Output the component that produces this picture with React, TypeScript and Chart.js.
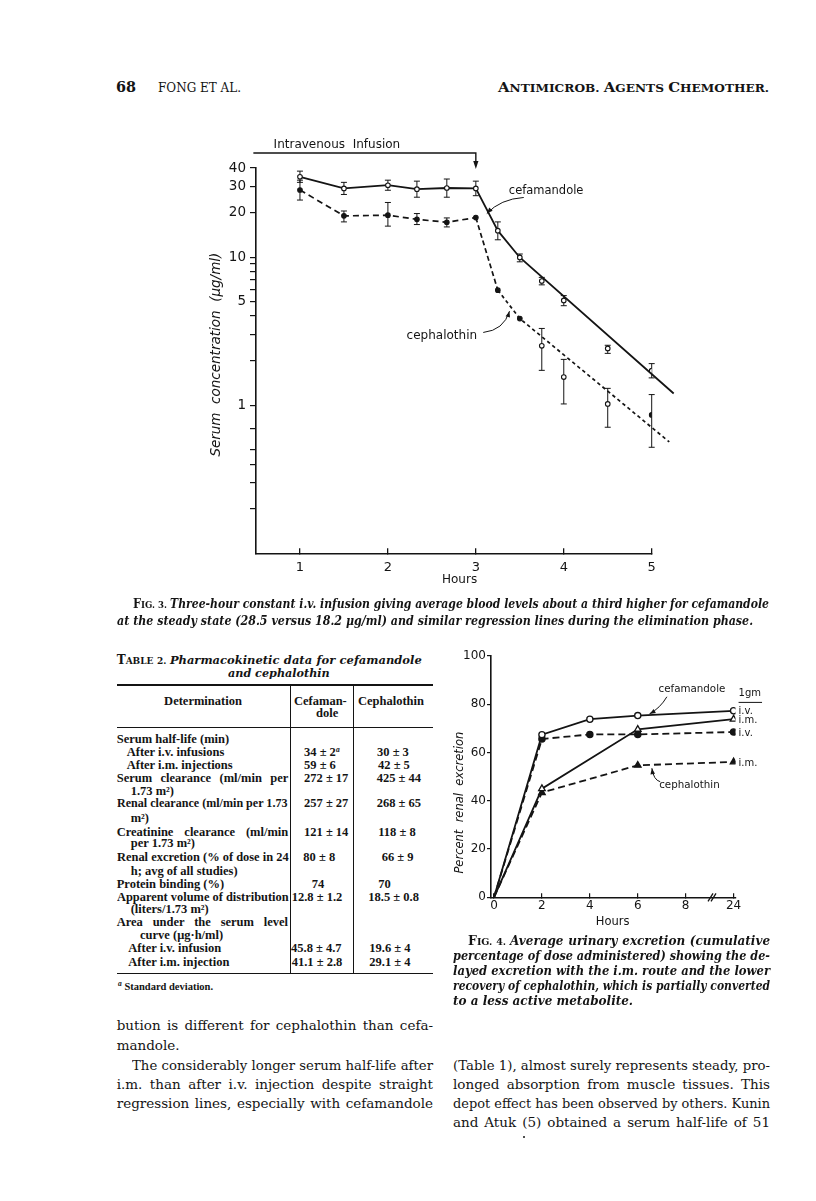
import React, { useEffect, useRef } from "react";
import { Chart, registerables } from "chart.js";
Chart.register(...registerables);

const INK = "#141414";
const SANS = "'DejaVu Sans', sans-serif";
const SERIF = "'DejaVu Serif', serif";
const TIMES = "'Liberation Serif', serif";

// ---------------- Fig. 3 data (serum concentration, µg/ml, log scale) ----------------
const fig3Hours = [1, 1.5, 2, 2.33, 2.67, 3, 3.25, 3.5, 3.75, 4, 4.5, 5];
const cefamandoleMean = [34.9, 29.1, 30.6, 28.8, 29.3, 29.1, 15.1, 9.95, 6.9, 5.1, 2.42, 1.71];
const cefamandoleLow = [32.0, 26.5, 28.3, 25.4, 25.4, 26.0, 13.1, 9.3, 6.5, 4.7, 2.24, 1.53];
const cefamandoleHigh = [38.1, 32.0, 33.1, 32.6, 33.7, 32.6, 17.3, 10.5, 7.3, 5.5, 2.54, 1.91];
const cephalothinMean = [28.4, 19.0, 19.2, 18.0, 17.2, 18.5, 5.98, 3.85, 2.52, 1.55, 1.02, 0.86];
const cephalothinLow = [24.3, 17.3, 16.2, 16.6, 16.0, null, null, null, 1.72, 1.02, 0.71, 0.52];
const cephalothinHigh = [33.1, 20.5, 23.4, 19.7, 18.4, null, null, null, 3.3, 2.04, 1.3, 1.18];
const cephalothinOpen = [false, false, false, false, false, false, false, false, true, true, true, false];

// connecting / regression lines
const cefamandoleLineHours = [1, 1.5, 2, 2.33, 2.67, 3, 3.25, 3.5, 5.25];
const cefamandoleLineValues = [34.9, 29.1, 30.6, 28.8, 29.3, 29.1, 15.1, 9.95, 1.2];
const cephalothinLineHours = [1, 1.5, 2, 2.33, 2.67, 3, 3.25, 3.5, 5.2];
const cephalothinLineValues = [28.4, 19.0, 19.2, 18.0, 17.2, 18.5, 5.98, 3.85, 0.565];

const fig3XTicks = [1, 2, 3, 4, 5];
const fig3YTicks = [0.2, 0.3, 0.4, 0.5, 0.7, 1, 2, 3, 4, 5, 6, 7, 8, 9, 10, 20, 30, 40];
const fig3YLabels = [1, 5, 10, 20, 30, 40];

// ---------------- Fig. 4 data (percent renal excretion) ----------------
const fig4XLabels = ["0", "2", "4", "6", "8", "24"];
const cefamandoleIvHours = [0, 2, 4, 6, 24];
const cefamandoleIvValues = [0, 67.4, 73.8, 75.3, 77.3];
const cefamandoleImHours = [0, 2, 6, 24];
const cefamandoleImValues = [0, 45.0, 69.6, 73.8];
const cephalothinIvHours = [0, 2, 4, 6, 24];
const cephalothinIvValues = [0, 65.6, 67.5, 67.5, 68.5];
const cephalothinImHours = [0, 2, 6, 24];
const cephalothinImValues = [0, 43.4, 54.7, 56.1];
const fig4EndLabels = ["i.v.", "i.m.", "i.v.", "i.m."];
const fig4YTicks = [0, 20, 40, 60, 80, 100];

// ---------------- helpers ----------------
let mctx: CanvasRenderingContext2D | null = null;
function measure(t: string, font: string): number {
  if (!mctx) mctx = document.createElement("canvas").getContext("2d");
  mctx!.font = font;
  return mctx!.measureText(t).width;
}

function curvedArrow(ctx: CanvasRenderingContext2D, sx: number, sy: number, cx: number, cy: number, tx: number, ty: number) {
  ctx.beginPath();
  ctx.moveTo(sx, sy);
  ctx.quadraticCurveTo(cx, cy, tx, ty);
  ctx.stroke();
  const a = Math.atan2(ty - cy, tx - cx);
  const L = 6, W = 2.3;
  ctx.beginPath();
  ctx.moveTo(tx, ty);
  ctx.lineTo(tx - L * Math.cos(a) + W * Math.sin(a), ty - L * Math.sin(a) - W * Math.cos(a));
  ctx.lineTo(tx - L * Math.cos(a) - W * Math.sin(a), ty - L * Math.sin(a) + W * Math.cos(a));
  ctx.closePath();
  ctx.fill();
}

function drawErrorBars(ctx: CanvasRenderingContext2D, xs: any, ys: any, hours: number[], low: (number | null)[], high: (number | null)[]) {
  for (let i = 0; i < hours.length; i++) {
    const lo = low[i], hi = high[i];
    if (lo == null || hi == null) continue;
    const px = xs.getPixelForValue(hours[i]);
    const y1 = ys.getPixelForValue(lo), y2 = ys.getPixelForValue(hi);
    ctx.beginPath();
    ctx.moveTo(px, y1); ctx.lineTo(px, y2);
    ctx.moveTo(px - 3, y1); ctx.lineTo(px + 3, y1);
    ctx.moveTo(px - 3, y2); ctx.lineTo(px + 3, y2);
    ctx.stroke();
  }
}

// annotation anchors (data units)
const infusion = { from: 0.47, to: 3, labelAt: 1.42, label: "Intravenous  Infusion" };
const cefLabel = { x: 3.375, y: 28.05, s: [3.545, 25.3], c: [3.28, 24.7], t: [3.125, 19.7] };
const cepLabel = { x: 2.2125, y: 2.93, s: [3.084, 3.1], c: [3.318, 3.21], t: [3.383, 4.32] };

const fig3Plugin = {
  id: "fig3Annotations",
  beforeDatasetsDraw(chart: any) {
    const { ctx, scales } = chart;
    ctx.save();
    ctx.strokeStyle = INK;
    ctx.lineWidth = 1;
    drawErrorBars(ctx, scales.x, scales.y, fig3Hours, cefamandoleLow, cefamandoleHigh);
    drawErrorBars(ctx, scales.x, scales.y, fig3Hours, cephalothinLow, cephalothinHigh);
    ctx.restore();
  },
  afterDraw(chart: any) {
    const { ctx, chartArea, scales } = chart;
    const x = scales.x, y = scales.y;
    ctx.save();
    ctx.strokeStyle = INK;
    ctx.fillStyle = INK;
    ctx.lineWidth = 1.4;
    const bx0 = x.getPixelForValue(infusion.from), bx1 = x.getPixelForValue(infusion.to);
    const by = chartArea.top - 15;
    ctx.beginPath();
    ctx.moveTo(bx0, by); ctx.lineTo(bx1, by); ctx.lineTo(bx1, chartArea.top - 5);
    ctx.stroke();
    ctx.beginPath();
    ctx.moveTo(bx1, chartArea.top + 1);
    ctx.lineTo(bx1 - 2.6, chartArea.top - 7);
    ctx.lineTo(bx1 + 2.6, chartArea.top - 7);
    ctx.closePath();
    ctx.fill();
    ctx.textBaseline = "middle";
    ctx.textAlign = "center";
    ctx.font = `12px ${SANS}`;
    ctx.fillText(infusion.label, x.getPixelForValue(infusion.labelAt), by - 8);

    ctx.textAlign = "left";
    ctx.font = `11.5px ${SANS}`;
    ctx.fillText("cefamandole", x.getPixelForValue(cefLabel.x), y.getPixelForValue(cefLabel.y));
    ctx.font = `12px ${SANS}`;
    ctx.fillText("cephalothin", x.getPixelForValue(cepLabel.x), y.getPixelForValue(cepLabel.y));
    ctx.lineWidth = 1;
    for (const a of [cefLabel, cepLabel]) {
      curvedArrow(ctx,
        x.getPixelForValue(a.s[0]), y.getPixelForValue(a.s[1]),
        x.getPixelForValue(a.c[0]), y.getPixelForValue(a.c[1]),
        x.getPixelForValue(a.t[0]), y.getPixelForValue(a.t[1]));
    }

    // axis titles
    ctx.textAlign = "center";
    ctx.font = `12px ${SANS}`;
    ctx.fillText("Hours", x.getPixelForValue(2.815), chartArea.bottom + 27);
    ctx.save();
    ctx.translate(chartArea.left - 40, (chartArea.top + chartArea.bottom) / 2 - 6);
    ctx.rotate(-Math.PI / 2);
    ctx.font = `italic 13.5px ${SANS}`;
    ctx.fillText("Serum  concentration  (\u03bcg/ml)", 0, 0);
    ctx.restore();
    ctx.restore();
  },
};

const fig4CefLabel = { x: 3.433, y: 86.2, s: [3.608, 83.1], c: [3.468, 78.4], t: [3.245, 76.0] };
const fig4CepLabel = { x: 3.447, y: 46.3, s: [3.468, 47.9], c: [3.329, 48.6], t: [3.295, 53.5] };
const fig4Break = 4.55;

const fig4Series = [
  { hours: cefamandoleIvHours, values: cefamandoleIvValues },
  { hours: cefamandoleImHours, values: cefamandoleImValues },
  { hours: cephalothinIvHours, values: cephalothinIvValues },
  { hours: cephalothinImHours, values: cephalothinImValues },
];
const fig4Styles = [
  { dash: [] as number[], point: "circle", filled: false },
  { dash: [] as number[], point: "triangle", filled: false },
  { dash: [7, 4], point: "circle", filled: true },
  { dash: [7, 4], point: "triangle", filled: true },
];

const fig4Plugin = {
  id: "fig4Annotations",
  afterDraw(chart: any) {
    const { ctx, chartArea, scales } = chart;
    const x = scales.x, y = scales.y;
    ctx.save();
    ctx.strokeStyle = INK;
    ctx.fillStyle = INK;
    ctx.textBaseline = "middle";
    // axis break
    const bp = x.getPixelForValue(fig4Break);
    ctx.lineWidth = 1.3;
    ctx.beginPath();
    for (const d of [-1.5, 1.5]) {
      ctx.moveTo(bp + d - 2.5, chartArea.bottom + 4);
      ctx.lineTo(bp + d + 2.5, chartArea.bottom - 4);
    }
    ctx.stroke();
    // labels
    ctx.textAlign = "left";
    ctx.font = `10.3px ${SANS}`;
    ctx.fillText("cefamandole", x.getPixelForValue(fig4CefLabel.x), y.getPixelForValue(fig4CefLabel.y));
    ctx.fillText("cephalothin", x.getPixelForValue(fig4CepLabel.x), y.getPixelForValue(fig4CepLabel.y));
    ctx.lineWidth = 1;
    for (const a of [fig4CefLabel, fig4CepLabel]) {
      curvedArrow(ctx,
        x.getPixelForValue(a.s[0]), y.getPixelForValue(a.s[1]),
        x.getPixelForValue(a.c[0]), y.getPixelForValue(a.c[1]),
        x.getPixelForValue(a.t[0]), y.getPixelForValue(a.t[1]));
    }
    const endX = x.getPixelForValue(fig4XLabels.length - 1) + 5;
    ctx.font = `10px ${SANS}`;
    const gmY = y.getPixelForValue(84.5);
    ctx.fillText("1gm", endX, gmY);
    ctx.beginPath();
    ctx.moveTo(endX, gmY + 9);
    ctx.lineTo(endX + measure("1gm", `10px ${SANS}`) + 1, gmY + 9);
    ctx.stroke();
    fig4Series.forEach((s, i) => {
      ctx.fillText(fig4EndLabels[i], endX, y.getPixelForValue(s.values[s.values.length - 1]) + 1);
    });
    // titles
    ctx.textAlign = "center";
    ctx.font = `11.5px ${SANS}`;
    ctx.fillText("Hours", x.getPixelForValue(2.476), chartArea.bottom + 24.4);
    ctx.save();
    ctx.translate(chartArea.left - 31, (chartArea.top + chartArea.bottom) / 2 + 26);
    ctx.rotate(-Math.PI / 2);
    ctx.font = `italic 11.5px ${SANS}`;
    ctx.fillText("Percent  renal  excretion", 0, 0);
    ctx.restore();
    ctx.restore();
  },
};

function Fig3() {
  const ref = useRef<HTMLCanvasElement>(null);
  useEffect(() => {
    const pts = (hs: number[], vs: number[]) => hs.map((h, i) => ({ x: h, y: vs[i] }));
    const chart = new Chart(ref.current!, {
      type: "line",
      data: {
        datasets: [
          {
            data: pts(fig3Hours, cefamandoleMean) as any,
            showLine: false,
            pointStyle: "circle",
            pointRadius: 2.3,
            pointBackgroundColor: "#fff",
            pointBorderColor: INK,
            pointBorderWidth: 1.1,
          },
          {
            data: pts(fig3Hours, cephalothinMean) as any,
            showLine: false,
            pointStyle: "circle",
            pointRadius: 2.3,
            pointBackgroundColor: cephalothinOpen.map((o) => (o ? "#fff" : INK)),
            pointBorderColor: INK,
            pointBorderWidth: 1.1,
          },
          {
            data: pts(cefamandoleLineHours, cefamandoleLineValues) as any,
            borderColor: INK,
            borderWidth: 1.8,
            pointRadius: 0,
            tension: 0,
            clip: false as any,
          },
          {
            data: pts(cephalothinLineHours, cephalothinLineValues) as any,
            borderColor: INK,
            borderWidth: 1.7,
            borderDash: [6, 4],
            pointRadius: 0,
            tension: 0,
            clip: false as any,
            segment: {
              borderDash: (c: any) => (c.p0.parsed.x >= 3.2 ? [3.5, 3] : c.p0.parsed.x >= 3 ? [5, 3] : [6, 4]),
            },
          },
        ],
      },
      options: {
        responsive: false,
        animation: false,
        devicePixelRatio: 1,
        events: [],
        layout: { padding: { left: 0, top: 38, right: 38.3, bottom: 0 } },
        plugins: { legend: { display: false }, tooltip: { enabled: false } },
        scales: {
          x: {
            type: "linear",
            min: 0.5,
            max: 5,
            afterBuildTicks: (s: any) => { s.ticks = fig3XTicks.map((v) => ({ value: v })); },
            afterFit: (s: any) => { s.height = 46.7; },
            grid: { drawOnChartArea: false, drawTicks: true, tickLength: -5, color: INK, lineWidth: 1.3 },
            border: { display: true, color: INK, width: 1.6 },
            ticks: { color: INK, font: { family: SANS, size: 13 }, padding: 12, autoSkip: false, maxRotation: 0, callback: (v: any) => String(v) },
          },
          y: {
            type: "logarithmic",
            min: 0.1,
            max: 40,
            afterBuildTicks: (s: any) => { s.ticks = fig3YTicks.map((v) => ({ value: v })); },
            afterFit: (s: any) => { s.width = 106; },
            grid: { drawOnChartArea: false, drawTicks: true, tickLength: 6, color: INK, lineWidth: 1.2 },
            border: { display: true, color: INK, width: 1.6 },
            ticks: {
              color: INK, font: { family: SANS, size: 13.5 }, padding: 4, autoSkip: false,
              callback: (v: any) => (fig3YLabels.includes(Number(v)) ? String(v) : ""),
            },
          },
        },
      },
      plugins: [fig3Plugin],
    } as any);
    return () => chart.destroy();
  }, []);
  return (
    <div style={{ position: "absolute", left: 150, top: 130, width: 540, height: 470 }}>
      <canvas ref={ref} width={540} height={470} style={{ width: 540, height: 470 }} />
    </div>
  );
}

function Fig4() {
  const ref = useRef<HTMLCanvasElement>(null);
  useEffect(() => {
    const chart = new Chart(ref.current!, {
      type: "line",
      data: {
        datasets: fig4Series.map((s, k) => ({
          data: s.hours.map((h, i) => ({ x: fig4XLabels.indexOf(String(h)), y: s.values[i] })),
          borderColor: INK,
          borderWidth: 1.8,
          borderDash: fig4Styles[k].dash,
          pointStyle: fig4Styles[k].point,
          pointRadius: s.hours.map((h) => (h === 0 ? 0 : fig4Styles[k].point === "triangle" ? 3.8 : 3.1)),
          pointBackgroundColor: fig4Styles[k].filled ? INK : "#fff",
          pointBorderColor: INK,
          pointBorderWidth: 1.3,
          tension: 0,
        })) as any,
      },
      options: {
        responsive: false,
        animation: false,
        devicePixelRatio: 1,
        events: [],
        layout: { padding: { left: 0, top: 16, right: 44.5, bottom: 0 } },
        plugins: { legend: { display: false }, tooltip: { enabled: false } },
        scales: {
          x: {
            type: "linear",
            min: -0.063,
            max: 5.04,
            afterBuildTicks: (s: any) => { s.ticks = fig4XLabels.map((_, i) => ({ value: i })); },
            afterFit: (s: any) => { s.height = 42.7; },
            grid: { drawOnChartArea: false, drawTicks: true, tickLength: -4, color: INK, lineWidth: 1.2 },
            border: { display: true, color: INK, width: 1.6 },
            ticks: { color: INK, font: { family: SANS, size: 12 }, padding: 5, autoSkip: false, maxRotation: 0, callback: (v: any) => fig4XLabels[Number(v)] ?? "" },
          },
          y: {
            type: "linear",
            min: 0,
            max: 100,
            afterBuildTicks: (s: any) => { s.ticks = fig4YTicks.map((v) => ({ value: v })); },
            afterFit: (s: any) => { s.width = 51; },
            grid: { drawOnChartArea: false, drawTicks: true, tickLength: 4, color: INK, lineWidth: 1.2 },
            border: { display: true, color: INK, width: 1.6 },
            ticks: { color: INK, font: { family: SANS, size: 12 }, padding: 1, autoSkip: false, callback: (v: any) => String(v) },
          },
        },
      },
      plugins: [fig4Plugin],
    } as any);
    return () => chart.destroy();
  }, []);
  return (
    <div style={{ position: "absolute", left: 440, top: 640, width: 340, height: 300 }}>
      <canvas ref={ref} width={340} height={300} style={{ width: 340, height: 300 }} />
    </div>
  );
}

// ---------------- page text ----------------
type Seg = { t: string; f: string; sup?: boolean };
type LineSpec = { x: number; y: number; w?: number; j?: boolean; c?: boolean; segs: Seg[] };

function TextLine({ spec }: { spec: LineSpec }) {
  const { x, y, w, j, c, segs } = spec;
  const natural = segs.reduce((s, g) => s + measure(g.t, g.f), 0);
  const spaces = segs.reduce((s, g) => s + (g.t.match(/ /g) || []).length, 0);
  let ws = 0, sx = 1;
  if (w !== undefined) {
    if (j && natural < w && spaces > 0) ws = (w - natural) / spaces;
    else sx = w / natural;
  }
  const left = c ? x - natural / 2 : x;
  return (
    <div
      style={{
        font: segs[0].f,
        position: "absolute",
        left,
        top: y - 10,
        height: 20,
        lineHeight: "20px",
        whiteSpace: "pre",
        wordSpacing: ws ? `${ws}px` : undefined,
        transform: sx !== 1 ? `scaleX(${sx})` : undefined,
        transformOrigin: "0 50%",
        color: INK,
      }}
    >
      {segs.map((g, i) => (
        <span key={i} style={{ font: g.f, verticalAlign: g.sup ? "4px" : undefined }}>{g.t}</span>
      ))}
    </div>
  );
}

const BODY = `13.5px ${SERIF}`;
const CAP = `italic bold 12px ${SERIF}`;
const TITLE = `italic bold 11.5px ${SERIF}`;
const TB = `bold 12.5px ${TIMES}`;
const SC_BIG = `bold 12.5px ${SERIF}`;
const SC_SMALL = `bold 9.5px ${SERIF}`;
const s = (t: string, f: string = BODY): Seg => ({ t, f });
const sup = (t: string): Seg => ({ t, f: `italic bold 7.5px ${TIMES}`, sup: true });

const LM = 116.7; // left column start
const RM = 453; // right column start

const pageLines: LineSpec[] = [
  // running head
  { x: 116, y: 87, w: 20, segs: [s("68", `bold 15px ${SERIF}`)] },
  { x: 158, y: 87, w: 83, segs: [s("FONG ET AL.", `13.5px ${SERIF}`)] },
  {
    x: 498, y: 87, w: 271,
    segs: [s("A", `bold 13.5px ${SERIF}`), s("NTIMICROB. ", `bold 11px ${SERIF}`), s("A", `bold 13.5px ${SERIF}`), s("GENTS ", `bold 11px ${SERIF}`), s("C", `bold 13.5px ${SERIF}`), s("HEMOTHER.", `bold 11px ${SERIF}`)],
  },
  // Fig. 3 caption
  {
    x: 133, y: 604, w: 636, j: true,
    segs: [s("F", SC_BIG), s("IG. 3. ", SC_SMALL), s("Three-hour constant i.v. infusion giving average blood levels about a third higher for cefamandole", CAP)],
  },
  { x: LM, y: 621, w: 636, j: true, segs: [s("at the steady state (28.5 versus 18.2 \u03bcg/ml) and similar regression lines during the elimination phase.", CAP)] },
  // Table title
  {
    x: LM, y: 659.5, w: 305, j: true,
    segs: [s("T", `bold 12px ${SERIF}`), s("ABLE 2. ", `bold 9px ${SERIF}`), s("Pharmacokinetic data for cefamandole", TITLE)],
  },
  { x: 228.3, y: 672.8, w: 101.7, j: true, segs: [s("and cephalothin", TITLE)] },
  // table header
  { x: 203, y: 701, c: true, segs: [s("Determination", TB)] },
  { x: 294, y: 701, segs: [s("Cefaman-", TB)] },
  { x: 316, y: 713, segs: [s("dole", TB)] },
  { x: 358, y: 701, segs: [s("Cephalothin", TB)] },
  // table rows (labels)
  { x: LM, y: 739.3, segs: [s("Serum half-life (min)", TB)] },
  { x: 126.7, y: 752.3, segs: [s("After i.v. infusions", TB)] },
  { x: 126.7, y: 765, segs: [s("After i.m. injections", TB)] },
  { x: LM, y: 777.7, w: 171.6, j: true, segs: [s("Serum clearance (ml/min per", TB)] },
  { x: 130.7, y: 790.7, segs: [s("1.73 m\u00b2)", TB)] },
  { x: LM, y: 803.3, w: 170.7, j: true, segs: [s("Renal clearance (ml/min per 1.73", TB)] },
  { x: 130.7, y: 818, segs: [s("m\u00b2)", TB)] },
  { x: LM, y: 831.7, w: 171.6, j: true, segs: [s("Creatinine clearance (ml/min", TB)] },
  { x: 130.7, y: 843.3, segs: [s("per 1.73 m\u00b2)", TB)] },
  { x: LM, y: 857, w: 171.6, j: true, segs: [s("Renal excretion (% of dose in 24", TB)] },
  { x: 130.7, y: 870.7, segs: [s("h; avg of all studies)", TB)] },
  { x: LM, y: 884, segs: [s("Protein binding (%)", TB)] },
  { x: LM, y: 896.7, w: 171.6, j: true, segs: [s("Apparent volume of distribution", TB)] },
  { x: 130.7, y: 909, segs: [s("(liters/1.73 m\u00b2)", TB)] },
  { x: LM, y: 922.3, w: 171.6, j: true, segs: [s("Area under the serum level", TB)] },
  { x: 140, y: 935, segs: [s("curve (\u03bcg\u00b7h/ml)", TB)] },
  { x: 128.3, y: 947.7, segs: [s("After i.v. infusion", TB)] },
  { x: 128.3, y: 961.7, segs: [s("After i.m. injection", TB)] },
  // table values
  { x: 304, y: 752.3, segs: [s("34 \u00b1 2", TB), sup("a")] },
  { x: 377, y: 752.3, segs: [s("30 \u00b1 3", TB)] },
  { x: 304, y: 765, segs: [s("59 \u00b1 6", TB)] },
  { x: 378, y: 765, segs: [s("42 \u00b1 5", TB)] },
  { x: 304, y: 777.7, segs: [s("272 \u00b1 17", TB)] },
  { x: 376.7, y: 777.7, segs: [s("425 \u00b1 44", TB)] },
  { x: 304, y: 803.3, segs: [s("257 \u00b1 27", TB)] },
  { x: 376.7, y: 803.3, segs: [s("268 \u00b1 65", TB)] },
  { x: 304, y: 831.7, segs: [s("121 \u00b1 14", TB)] },
  { x: 378.3, y: 831.7, segs: [s("118 \u00b1 8", TB)] },
  { x: 303.3, y: 857, segs: [s("80 \u00b1 8", TB)] },
  { x: 381.7, y: 857, segs: [s("66 \u00b1 9", TB)] },
  { x: 311.7, y: 884, segs: [s("74", TB)] },
  { x: 378.3, y: 884, segs: [s("70", TB)] },
  { x: 291.7, y: 896.7, segs: [s("12.8 \u00b1 1.2", TB)] },
  { x: 368.3, y: 896.7, segs: [s("18.5 \u00b1 0.8", TB)] },
  { x: 291, y: 947.7, segs: [s("45.8 \u00b1 4.7", TB)] },
  { x: 369.3, y: 947.7, segs: [s("19.6 \u00b1 4", TB)] },
  { x: 291.7, y: 961.7, segs: [s("41.1 \u00b1 2.8", TB)] },
  { x: 369.3, y: 961.7, segs: [s("29.1 \u00b1 4", TB)] },
  // footnote
  { x: 118, y: 988, segs: [sup("a"), s(" Standard deviation.", `bold 10.5px ${TIMES}`)] },
  // Fig. 4 caption
  {
    x: RM + 15, y: 940.5, w: 302, j: true,
    segs: [s("F", SC_BIG), s("IG. 4. ", SC_SMALL), s("Average urinary excretion (cumulative", CAP)],
  },
  { x: RM, y: 955.5, w: 317, j: true, segs: [s("percentage of dose administered) showing the de-", CAP)] },
  { x: RM, y: 970.5, w: 317, j: true, segs: [s("layed excretion with the i.m. route and the lower", CAP)] },
  { x: RM, y: 985.5, w: 317, j: true, segs: [s("recovery of cephalothin, which is partially converted", CAP)] },
  { x: RM, y: 1000.5, segs: [s("to a less active metabolite.", CAP)] },
  // body text, left column
  { x: LM, y: 1025, w: 316.3, j: true, segs: [s("bution is different for cephalothin than cefa-")] },
  { x: LM, y: 1044.5, segs: [s("mandole.")] },
  { x: 132, y: 1064.5, w: 301, j: true, segs: [s("The considerably longer serum half-life after")] },
  { x: LM, y: 1083.5, w: 316.3, j: true, segs: [s("i.m. than after i.v. injection despite straight")] },
  { x: LM, y: 1102.5, w: 316.3, j: true, segs: [s("regression lines, especially with cefamandole")] },
  // body text, right column
  { x: RM, y: 1064.5, w: 317, j: true, segs: [s("(Table 1), almost surely represents steady, pro-")] },
  { x: RM, y: 1083.5, w: 317, j: true, segs: [s("longed absorption from muscle tissues. This")] },
  { x: RM, y: 1102.5, w: 317, j: true, segs: [s("depot effect has been observed by others. Kunin")] },
  { x: RM, y: 1121.5, w: 317, j: true, segs: [s("and Atuk (5) obtained a serum half-life of 51")] },
];

const rule = (left: number, top: number, width: number, height: number) => (
  <div style={{ position: "absolute", left, top, width, height, background: INK }} />
);

export default function App() {
  return (
    <div style={{ position: "absolute", left: 0, top: 0, width: 816, height: 1201, background: "#fff", overflow: "hidden" }}>
      <Fig3 />
      <Fig4 />
      {rule(117, 684.3, 316, 1.6)}
      {rule(117, 726.8, 316, 1)}
      {rule(117, 972.7, 316, 1.6)}
      {rule(289.5, 685, 1, 288)}
      {rule(352.8, 685, 1, 288)}
      {pageLines.map((l, i) => (
        <TextLine key={i} spec={l} />
      ))}
      <div style={{ position: "absolute", left: 523, top: 1136, width: 2, height: 2, borderRadius: 1, background: INK }} />
    </div>
  );
}
